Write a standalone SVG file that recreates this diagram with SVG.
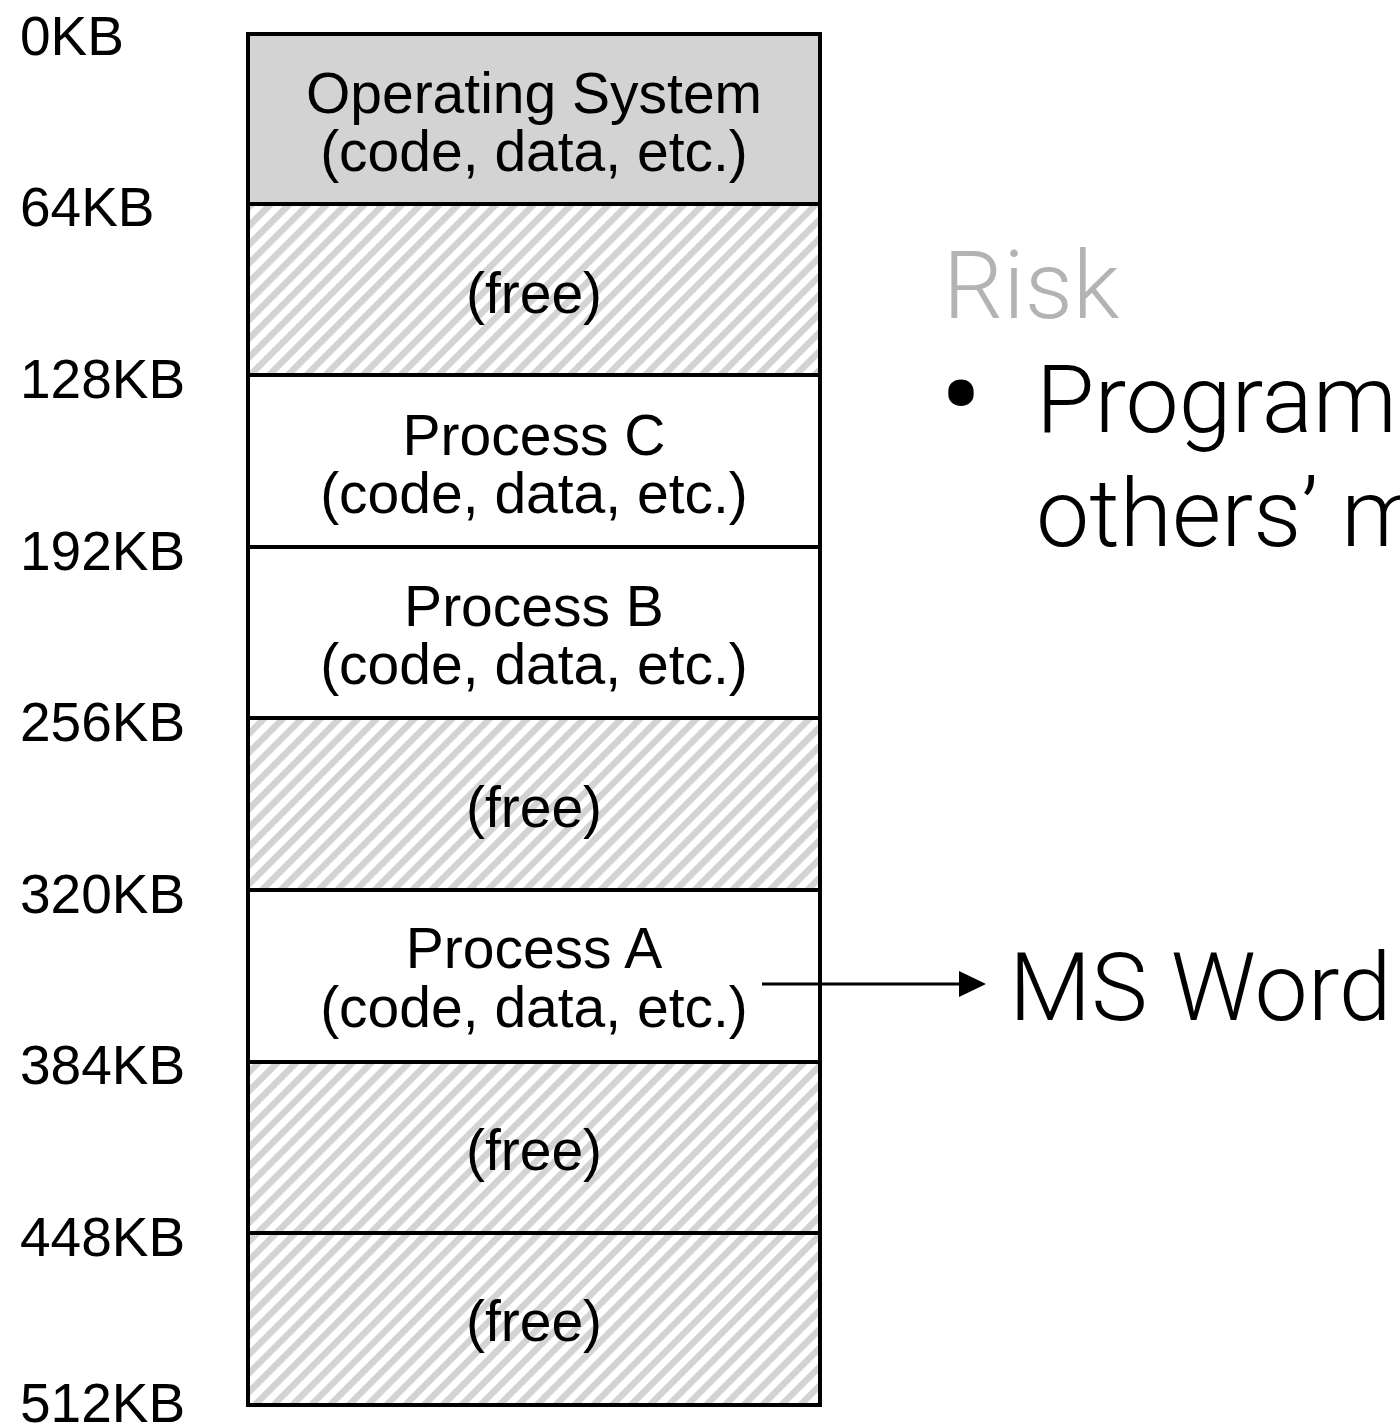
<svg xmlns="http://www.w3.org/2000/svg" width="1400" height="1428" viewBox="0 0 1400 1428">
  <style>
    .seg { stroke: #000; stroke-width: 4; }
    .os { fill: #d3d3d3; }
    .used { fill: #ffffff; }
    .free { fill: url(#hatch); }
    .in { font-family: "Liberation Sans", Arial, sans-serif; font-size: 57px; fill: #000; text-anchor: middle; }
    .addr { font-family: "Liberation Sans", Arial, sans-serif; font-size: 55px; fill: #000; }
    .big { font-family: Roboto, "Liberation Sans", sans-serif; font-weight: 300; font-size: 95px; fill: #000; }
    .title { fill: #b3b3b3; }
  </style>
  <defs>
    <pattern id="hatch" patternUnits="userSpaceOnUse" width="13.3" height="13.3" patternTransform="rotate(45)">
      <rect x="0" y="0" width="13.3" height="13.3" fill="#ffffff"/>
      <rect x="0" y="0" width="6.5" height="13.3" fill="#d3d3d3"/>
    </pattern>
    <marker id="arrow" markerUnits="userSpaceOnUse" markerWidth="27" markerHeight="26" refX="1" refY="13" orient="auto">
      <path d="M0,0 L27,13 L0,26 z" fill="#000"/>
    </marker>
  </defs>

  <rect width="1400" height="1428" fill="#ffffff"/>

  <g id="node-os">
    <rect class="seg os" x="248" y="34" width="572" height="170"/>
    <text class="in" x="534" y="113">Operating System</text>
    <text class="in" x="534" y="171">(code, data, etc.)</text>
  </g>
  <g id="node-free-64">
    <rect class="seg free" x="248" y="204" width="572" height="171"/>
    <text class="in" x="534" y="313">(free)</text>
  </g>
  <g id="node-process-c">
    <rect class="seg used" x="248" y="375" width="572" height="172"/>
    <text class="in" x="534" y="455">Process C</text>
    <text class="in" x="534" y="513">(code, data, etc.)</text>
  </g>
  <g id="node-process-b">
    <rect class="seg used" x="248" y="547" width="572" height="171"/>
    <text class="in" x="534" y="626">Process B</text>
    <text class="in" x="534" y="684">(code, data, etc.)</text>
  </g>
  <g id="node-free-256">
    <rect class="seg free" x="248" y="718" width="572" height="172"/>
    <text class="in" x="534" y="827">(free)</text>
  </g>
  <g id="node-process-a">
    <rect class="seg used" x="248" y="890" width="572" height="172"/>
    <text class="in" x="534" y="968">Process A</text>
    <text class="in" x="534" y="1027">(code, data, etc.)</text>
  </g>
  <g id="node-free-384">
    <rect class="seg free" x="248" y="1062" width="572" height="171"/>
    <text class="in" x="534" y="1170">(free)</text>
  </g>
  <g id="node-free-448">
    <rect class="seg free" x="248" y="1233" width="572" height="172"/>
    <text class="in" x="534" y="1341">(free)</text>
  </g>

  <g id="addresses">
    <text class="addr" x="20" y="55">0KB</text>
    <text class="addr" x="20" y="226">64KB</text>
    <text class="addr" x="20" y="398">128KB</text>
    <text class="addr" x="20" y="570">192KB</text>
    <text class="addr" x="20" y="741">256KB</text>
    <text class="addr" x="20" y="913">320KB</text>
    <text class="addr" x="20" y="1084">384KB</text>
    <text class="addr" x="20" y="1256">448KB</text>
    <text class="addr" x="20" y="1422">512KB</text>
  </g>

  <g id="connectors">
    <line x1="762" y1="984" x2="960" y2="984" stroke="#000" stroke-width="3" marker-end="url(#arrow)"/>
  </g>

  <g id="node-ms-word">
    <text class="big" x="1009" y="1020">MS Word</text>
  </g>

  <g id="node-risk">
    <text class="big title" x="943" y="318">Risk</text>
    <text class="big" x="961" y="443" text-anchor="middle" style="font-size:140px">•</text>
    <text class="big" x="1036" y="432">Program</text>
    <text class="big" x="1036" y="546">others’ m</text>
  </g>
</svg>
